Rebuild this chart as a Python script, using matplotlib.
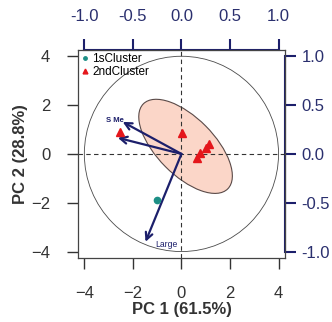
import matplotlib
matplotlib.use("Agg")
import matplotlib.pyplot as plt
from matplotlib.patches import Ellipse, Circle
import numpy as np

plt.rcParams["font.family"] = ["Liberation Sans", "DejaVu Sans"]

# ── Data ───────────────────────────────────────────────────────
cluster1_x = [-1.02]
cluster1_y = [-1.89]
cluster2_x = [0.04, -2.54, 0.66, 0.78, 1.0, 1.15]
cluster2_y = [0.86, 0.90, -0.16, 0.04, 0.25, 0.40]

# loadings (unit-circle scale) and their labels
load_names = ["S Me", "", "Large"]
load_x = [-0.605, -0.655, -0.37]
load_y = [0.328, 0.165, -0.90]
LOAD_SCALE = 4.0

# confidence ellipse of cluster 2
ell_center = (0.17, 0.31)
ell_width, ell_height, ell_angle = 4.92, 2.35, -45

xlabel = "PC 1 (61.5%)"
ylabel = "PC 2 (28.8%)"
LIM = 4.26

NAVY = "#1c1f6b"
GREY = "#333333"

# ── Plot ───────────────────────────────────────────────────────
fig = plt.figure(figsize=(3.32, 3.22), dpi=100)
ax = fig.add_axes([0.235, 0.199, 0.623, 0.646])

ax.add_patch(Ellipse(ell_center, ell_width, ell_height, angle=ell_angle,
                     facecolor="#fbd6c8", edgecolor="#5a4a48", lw=0.8, zorder=1))
ax.add_patch(Circle((0, 0), LOAD_SCALE, fill=False, edgecolor="#4a4a4a",
                    lw=0.6, zorder=1))
ax.axhline(0, color=GREY, ls=(0, (4, 3)), lw=0.8, zorder=2)
ax.axvline(0, color=GREY, ls=(0, (4, 3)), lw=0.8, zorder=2)

ax.plot(cluster1_x, cluster1_y, "o", color="#1d8f86", ms=4.5, zorder=4,
        label="1sCluster")
ax.plot(cluster2_x, cluster2_y, "^", color="#e4161b", ms=6.3, zorder=4,
        label="2ndCluster", lw=0)

for name, lx, ly in zip(load_names, load_x, load_y):
    ax.annotate("", xy=(lx * LOAD_SCALE, ly * LOAD_SCALE), xytext=(0, 0),
                arrowprops=dict(arrowstyle="->,head_length=0.5,head_width=0.25",
                                color=NAVY, lw=1.6, shrinkA=0, shrinkB=0),
                zorder=3)
ax.text(load_x[0] * LOAD_SCALE - 0.3, load_y[0] * LOAD_SCALE + 0.05,
        load_names[0], color=NAVY, fontsize=5.5, fontweight="bold",
        ha="center", va="center", zorder=5)
ax.text(load_x[2] * LOAD_SCALE + 0.88, load_y[2] * LOAD_SCALE - 0.13,
        load_names[2], color=NAVY, fontsize=6.2,
        ha="center", va="center", zorder=5)

ax.set_xlim(-LIM, LIM)
ax.set_ylim(-LIM, LIM)
ax.set_xticks([-4, -2, 0, 2, 4])
ax.set_yticks([-4, -2, 0, 2, 4])
ax.tick_params(length=8, width=1, pad=12, labelsize=12, colors=GREY)
for sp in ax.spines.values():
    sp.set_color("#444444")
    sp.set_linewidth(0.9)
ax.set_xlabel(xlabel, fontsize=12, fontweight="bold", color=GREY, labelpad=1)
ax.set_ylabel(ylabel, fontsize=12, fontweight="bold", color=GREY, labelpad=2)

leg = ax.legend(loc="upper left", frameon=False, fontsize=8.5,
                handlelength=0.6, handletextpad=0.3, borderaxespad=0.1,
                labelspacing=0.05, borderpad=0.2, markerscale=0.55)

# loading axes (top / right)
fwd = lambda v: v / LOAD_SCALE
inv = lambda v: v * LOAD_SCALE
lticks = [-1.0, -0.5, 0.0, 0.5, 1.0]
tlabels = [f"{t:.1f}" for t in lticks]
top = ax.secondary_xaxis("top", functions=(fwd, inv))
right = ax.secondary_yaxis("right", functions=(fwd, inv))
top.set_xticks(lticks, tlabels)
right.set_yticks(lticks, tlabels)
for sec in (top, right):
    sec.tick_params(length=8, width=1.5, labelsize=12, colors=NAVY,
                    labelcolor="#2a2f6e")
top.tick_params(pad=11)
right.tick_params(pad=4)
top.spines["top"].set_bounds(-1, 1)
top.spines["top"].set_color(NAVY)
top.spines["top"].set_linewidth(1.5)
right.spines["right"].set_bounds(-1, 1)
right.spines["right"].set_color(NAVY)
right.spines["right"].set_linewidth(1.5)

fig.savefig("out.png", dpi=100)
